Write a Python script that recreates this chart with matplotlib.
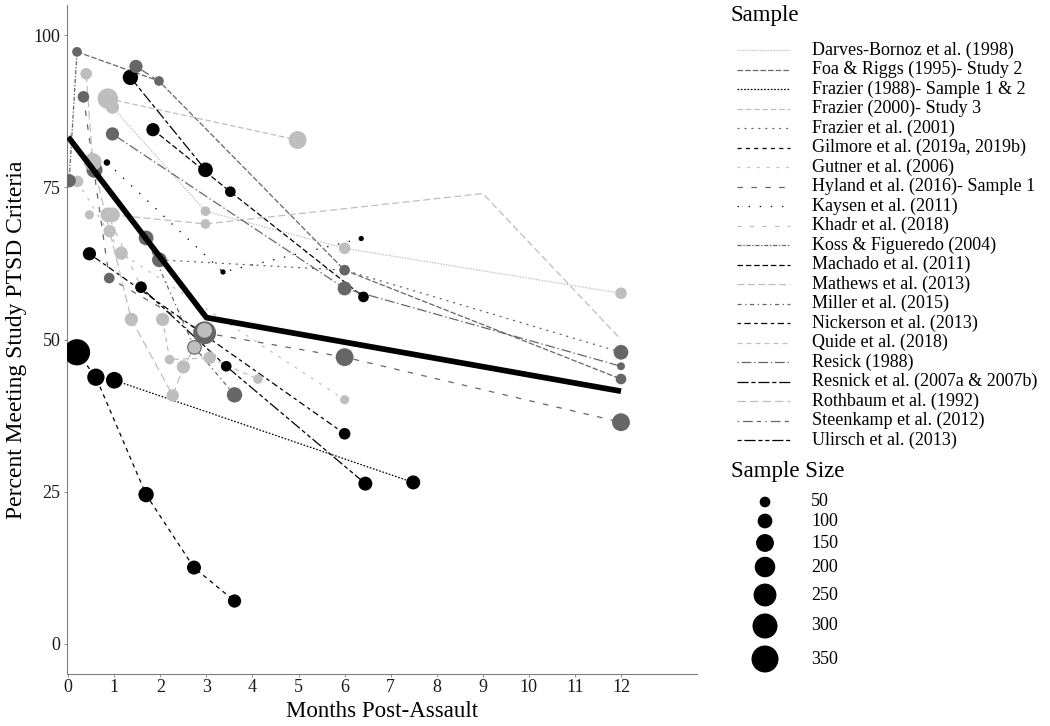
import numpy as np
import matplotlib
matplotlib.use("Agg")
import matplotlib.pyplot as plt
from matplotlib.lines import Line2D

plt.rcParams['font.family'] = ['Liberation Serif', 'DejaVu Serif']
plt.rcParams['lines.scale_dashes'] = False

# ---------------- data (months, percent meeting criteria, sample size) -------------
darves_x = [0.96, 2.98, 6.0, 12.0];  darves_y = [88.2, 71.1, 65.0, 57.6];  darves_n = [80, 40, 60, 60]
foa_x = [0.19, 1.97, 6.0, 12.0];     foa_y = [97.3, 92.5, 61.4, 43.5];     foa_n = [40, 40, 50, 50]
fraz88_x = [1.0, 7.49];              fraz88_y = [43.3, 26.5];              fraz88_n = [130, 90]
fraz00_x = [0.86, 4.98];             fraz00_y = [89.6, 82.8];              fraz00_n = [200, 150]
fraz01_x = [1.98, 6.0, 12.0];        fraz01_y = [63.1, 61.4, 47.9];        fraz01_n = [100, np.nan, 100]
gilmore_x = [0.19, 0.6, 1.69, 2.73, 3.61]; gilmore_y = [47.9, 43.8, 24.5, 12.5, 7.0]; gilmore_n = [330, 140, 110, 90, 80]
gutner_x = [0.2, 1.15, 6.0];         gutner_y = [76.0, 64.2, 40.1];        gutner_n = [60, 80, 35]
hyland_x = [0.33, 0.89, 2.96, 6.0, 12.0]; hyland_y = [89.9, 60.1, 51.1, 47.1, 36.4]; hyland_n = [60, 50, 250, 150, 150]
kaysen_x = [0.84, 3.36, 6.36];       kaysen_y = [79.1, 61.1, 66.6];        kaysen_n = [15, 8, 8]
khadr_x = [0.46, 0.86, 1.58];        khadr_y = [70.5, 70.5, 58.6];         khadr_n = [35, 100, 60]
koss_x = [0.02, 0.19];               koss_y = [76.1, 97.3];                koss_n = [80, np.nan]
machado_x = [1.84, 3.52, 6.41];      machado_y = [84.5, 74.3, 57.0];       machado_n = [80, 50, 50]
mathews_x = [0.96, 2.98, 9.0, 12.0]; mathews_y = [70.5, 69.0, 74.0, 50.0]; mathews_n = [100, 40, np.nan, np.nan]
miller_x = [0.57, 1.69, 2.74, 3.61]; miller_y = [77.9, 66.7, 48.7, 40.9];  miller_n = [120, 100, 100, 110]
nickerson_x = [0.46, 6.0];           nickerson_y = [64.1, 34.5];           nickerson_n = [80, 60]
quide_x = [2.05, 2.2, 3.07, 4.12];   quide_y = [53.3, 46.7, 47.0, 43.5];   quide_n = [80, 40, 70, 40]
resick_x = [0.96, 6.0, 12.0];        resick_y = [83.8, 58.4, 45.6];        resick_n = [80, 90, 25]
resnick_x = [1.35, 2.98];            resnick_y = [93.1, 77.9];             resnick_n = [110, 100]
rothbaum_x = [0.39, 0.53, 0.9, 1.37, 2.27, 2.5, 2.74, 2.96]
rothbaum_y = [93.7, 79.2, 67.8, 53.3, 40.8, 45.5, 48.7, 51.5]
rothbaum_n = [60, 150, 70, 80, 70, 80, 70, 100]
steenkamp_x = [1.47, 1.97];          steenkamp_y = [94.9, 92.5];           steenkamp_n = [80, np.nan]
ulirsch_x = [1.58, 3.43, 6.45];      ulirsch_y = [58.6, 45.6, 26.3];       ulirsch_n = [60, 50, 90]

mean_x = [0, 3, 12]
mean_y = [83.3, 53.6, 41.5]

sample_labels = ["Darves-Bornoz et al. (1998)", "Foa & Riggs (1995)- Study 2",
                 "Frazier (1988)- Sample 1 & 2", "Frazier (2000)- Study 3",
                 "Frazier et al. (2001)", "Gilmore et al. (2019a, 2019b)",
                 "Gutner et al. (2006)", "Hyland et al. (2016)- Sample 1",
                 "Kaysen et al. (2011)", "Khadr et al. (2018)",
                 "Koss & Figueredo (2004)", "Machado et al. (2011)",
                 "Mathews et al. (2013)", "Miller et al. (2015)",
                 "Nickerson et al. (2013)", "Quide et al. (2018)",
                 "Resick (1988)", "Resnick et al. (2007a & 2007b)",
                 "Rothbaum et al. (1992)", "Steenkamp et al. (2012)",
                 "Ulirsch et al. (2013)"]
size_breaks = [50, 100, 150, 200, 250, 300, 350]
x_ticks = list(range(0, 13))
y_ticks = [0, 25, 50, 75, 100]

series = [(darves_x, darves_y, darves_n), (foa_x, foa_y, foa_n),
          (fraz88_x, fraz88_y, fraz88_n), (fraz00_x, fraz00_y, fraz00_n),
          (fraz01_x, fraz01_y, fraz01_n), (gilmore_x, gilmore_y, gilmore_n),
          (gutner_x, gutner_y, gutner_n), (hyland_x, hyland_y, hyland_n),
          (kaysen_x, kaysen_y, kaysen_n), (khadr_x, khadr_y, khadr_n),
          (koss_x, koss_y, koss_n), (machado_x, machado_y, machado_n),
          (mathews_x, mathews_y, mathews_n), (miller_x, miller_y, miller_n),
          (nickerson_x, nickerson_y, nickerson_n), (quide_x, quide_y, quide_n),
          (resick_x, resick_y, resick_n), (resnick_x, resnick_y, resnick_n),
          (rothbaum_x, rothbaum_y, rothbaum_n), (steenkamp_x, steenkamp_y, steenkamp_n),
          (ulirsch_x, ulirsch_y, ulirsch_n)]

# ---------------- styles ----------------
LIGHT, DARK, BLACK = '#BEBEBE', '#666666', '#000000'
colors = [LIGHT, DARK, BLACK] * 7
dashes = [(0, (1, 1)), (0, (4, 1.5)), (0, (1.2, 1.2)), (0, (4, 2)), (0, (1.5, 3.5)),
          (0, (3, 3)), (0, (2, 5)), (0, (4, 6)), (0, (1, 7)), (0, (3, 6)),
          (0, (3, 1.2, 1, 1.2)), (0, (4, 2)), (0, (5, 2.5)), (0, (3, 2.5, 1, 2.5)),
          (0, (2.5, 2.5, 4.5, 2.5)), (0, (3.5, 3)), (0, (1, 2, 7, 2)), (0, (8, 2, 3, 2)),
          (0, (6, 3)), (0, (1, 3, 7, 3, 3, 3)), (0, (3, 2, 8, 2, 3, 2))]
LW = 0.9


def msize(n):
    n = np.asarray(n, dtype=float)
    d_px = np.sqrt(2.05 * n + 11.5)
    return (d_px * 0.72) ** 2


fig = plt.figure(figsize=(10.5, 7.26), dpi=100)
ax = fig.add_axes([67.3 / 1050, 1 - 674 / 726, (697 - 67.3) / 1050, (674 - 5) / 726])

for (x, y, n), c, ls in zip(series, colors, dashes):
    ax.plot(x, y, color=c, lw=LW, linestyle=ls, zorder=2)
for (x, y, n), c in zip(series, colors):
    x = np.asarray(x); y = np.asarray(y); n = np.asarray(n, dtype=float)
    ok = np.isfinite(n)
    ax.scatter(x[ok], y[ok], s=msize(n[ok]), color=c, edgecolors='none', zorder=3)
ax.plot(mean_x, mean_y, color='black', lw=4.1, solid_capstyle='butt', zorder=4)

ax.set_xlim(-0.02, 13.65)
ax.set_ylim(-5, 105)
ax.set_xticks(x_ticks)
ax.set_yticks(y_ticks)
for s in ['top', 'right']:
    ax.spines[s].set_visible(False)
for s in ['left', 'bottom']:
    ax.spines[s].set_color('#7f7f7f')
    ax.spines[s].set_linewidth(0.8)
ax.tick_params(axis='both', colors='#7f7f7f', labelcolor='#1a1a1a', labelsize=13,
               length=2.5, width=0.6)
ax.tick_params(axis='x', pad=1)
ax.tick_params(axis='y', pad=2.5)
ax.set_xlabel('Months Post-Assault', fontsize=16.5, labelpad=4)
ax.set_ylabel('Percent Meeting Study PTSD Criteria', fontsize=17, labelpad=5)

# ---------------- legends (drawn in pixel space overlay) ----------------
lax = fig.add_axes([0, 0, 1, 1], facecolor='none')
lax.set_xlim(0, 1050)
lax.set_ylim(726, 0)
lax.axis('off')

lax.text(731, 15, 'Sample', fontsize=16.5, va='center', ha='left')
for i, (lab, c, ls) in enumerate(zip(sample_labels, colors, dashes)):
    yy = 50 + 19.5 * i
    lax.add_line(Line2D([737, 790], [yy, yy], color=c, lw=LW, linestyle=ls))
    lax.text(812, yy, lab, fontsize=13, va='center', ha='left')

lax.text(731, 472, 'Sample Size', fontsize=16.5, va='center', ha='left')
size_y = [502, 521, 543, 567, 595, 626, 659]
lax.scatter([765] * len(size_breaks), size_y, s=msize(size_breaks), color='black',
            edgecolors='none')
for b, yy in zip(size_breaks, size_y):
    lax.text(811, yy, str(b), fontsize=13, va='center', ha='left')

fig.savefig('out.png', dpi=100)
